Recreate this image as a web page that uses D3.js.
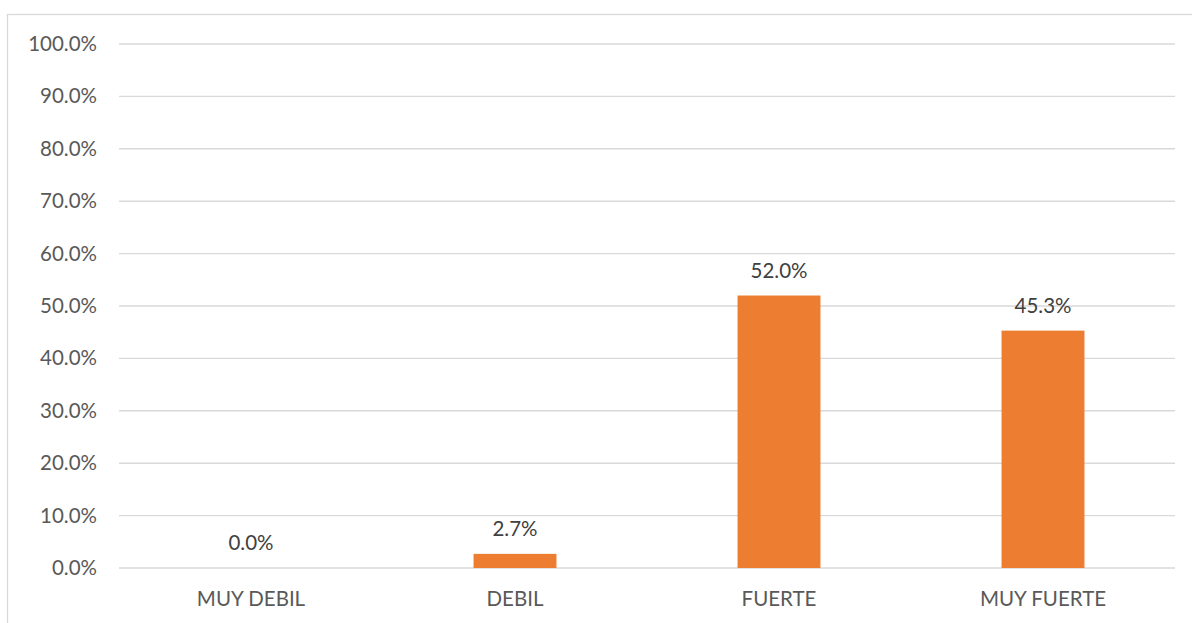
<!DOCTYPE html>
<html><head><meta charset="utf-8">
<script src="https://cdn.jsdelivr.net/npm/d3@7"></script>
<style>body{margin:0;background:#fff;overflow:hidden}svg{display:block}text{font-family:Lato,"Open Sans",sans-serif}</style>
</head><body>
<svg id="c" width="1192" height="623"></svg>
<script>
const categories = ["MUY DEBIL","DEBIL","FUERTE","MUY FUERTE"];
const values = [0.0, 2.7, 52.0, 45.3];
const yTicks = [0,10,20,30,40,50,60,70,80,90,100];

const svg = d3.select("#c");
const W = 1192, H = 623;
svg.append("rect").attr("x",7.5).attr("y",14.5).attr("width",W).attr("height",H)
  .attr("fill","none").attr("stroke","#d9d9d9").attr("stroke-width",1.3);

const pLeft = 119, pRight = 1175, pTop = 44, pBottom = 568;
const FS = 20.5;
const x = d3.scaleBand().domain(categories).range([pLeft,pRight]).paddingInner(0.686).paddingOuter(0.343);
const y = d3.scaleLinear().domain([0,100]).range([pBottom,pTop]);

const g = svg.append("g");
g.selectAll("line.grid").data(yTicks).join("line").attr("class","grid")
  .attr("x1",pLeft).attr("x2",pRight).attr("y1",d=>y(d)).attr("y2",d=>y(d))
  .attr("stroke","#d9d9d9").attr("stroke-width",1.4);

const yAxis = d3.axisLeft(y).tickValues(yTicks).tickFormat(d=>d.toFixed(1)+"%").tickSize(0).tickPadding(22);
const ya = svg.append("g").attr("transform",`translate(${pLeft},0)`).call(yAxis);
ya.select(".domain").remove();
ya.selectAll("text").attr("font-size",FS).attr("fill","#595959").attr("font-family","Lato");

const xAxis = d3.axisBottom(x).tickSize(0).tickPadding(23);
const xa = svg.append("g").attr("transform",`translate(0,${pBottom})`).call(xAxis);
xa.select(".domain").remove();
xa.selectAll("text").attr("font-size",FS).attr("fill","#595959").attr("font-family","Lato");

g.selectAll("rect.bar").data(values).join("rect").attr("class","bar")
  .attr("x",(d,i)=>x(categories[i])).attr("width",x.bandwidth())
  .attr("y",d=>y(d)).attr("height",d=>y(0)-y(d)).attr("fill","#ED7D31");

g.selectAll("text.lbl").data(values).join("text").attr("class","lbl")
  .attr("x",(d,i)=>x(categories[i])+x.bandwidth()/2).attr("y",d=>y(d)-18)
  .attr("text-anchor","middle").attr("font-size",FS).attr("fill","#404040")
  .text(d=>d.toFixed(1)+"%");
</script>
</body></html>
